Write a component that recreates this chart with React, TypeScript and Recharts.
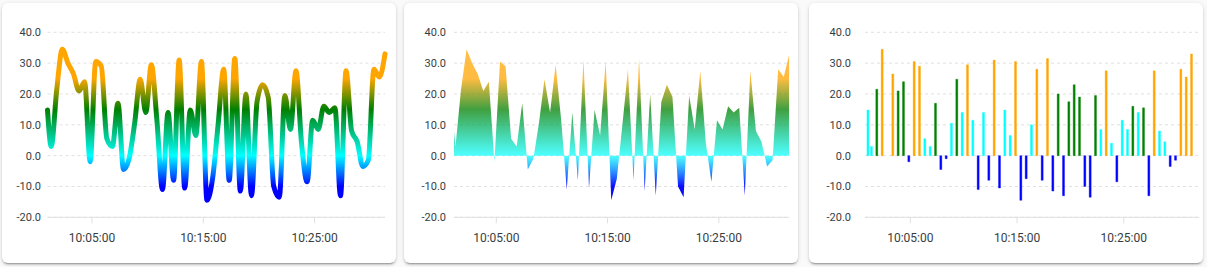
import {
  Area,
  AreaChart,
  Bar,
  BarChart,
  CartesianGrid,
  Cell,
  Line,
  LineChart,
  XAxis,
  YAxis,
} from "recharts";

const times = [
  "10:01:00", "10:01:20", "10:01:50", "10:02:20", "10:02:50", "10:03:20",
  "10:03:50", "10:04:20", "10:04:50", "10:05:20", "10:05:50", "10:06:20",
  "10:06:50", "10:07:20", "10:07:50", "10:08:20", "10:08:50", "10:09:20",
  "10:09:50", "10:10:20", "10:10:50", "10:11:20", "10:11:50", "10:12:20",
  "10:12:50", "10:13:20", "10:13:50", "10:14:20", "10:14:50", "10:15:20",
  "10:15:50", "10:16:20", "10:16:50", "10:17:20", "10:17:50", "10:18:20",
  "10:18:50", "10:19:20", "10:19:50", "10:20:20", "10:20:50", "10:21:20",
  "10:21:50", "10:22:20", "10:22:50", "10:23:20", "10:23:50", "10:24:20",
  "10:24:50", "10:25:20", "10:25:50", "10:26:20", "10:26:50", "10:27:20",
  "10:27:50", "10:28:20", "10:28:50", "10:29:20", "10:29:50", "10:30:20",
  "10:30:50", "10:31:20",
];

const readings = [
  14.8, 3, 21.5, 34.5, 30, 26.5,
  21, 24, -2, 30.5, 29, 5.5,
  3, 17, -4.5, -1, 10.5, 24.8,
  14, 29.5, 11.5, -11, 14, -8,
  31, -10.5, 14.8, 6.5, 30.5, -14.5,
  -7.5, 10, 28, -8, 31.5, -11.5,
  20, -13, 17.5, 23, 19, -10,
  -13.5, 19.5, 8.5, 27.5, 4, -8.5,
  11.5, 8.5, 16, 14, 15.5, -13,
  27.5, 8, 4.5, -3.5, -1.5, 28,
  25.5, 33,
];

// the bar card has no sample at this time
const barGapTimes = ["10:02:50"];

const timeTicks = ["10:05:00", "10:15:00", "10:25:00"];
const valueTicks = [-20, -10, 0, 10, 20, 30, 40];

const thresholdValues = [-10, 0, 15, 25];
const thresholdColors = ["#0000ff", "#00ffff", "#008000", "#ffa500"];

const toSec = (s: string) => {
  const [h, m, sec] = s.split(":").map(Number);
  return h * 3600 + m * 60 + sec;
};
const pad = (n: number) => String(n).padStart(2, "0");
const fmtTime = (v: number) =>
  `${pad(Math.floor(v / 3600))}:${pad(Math.floor((v % 3600) / 60))}:${pad(v % 60)}`;

const data = times.map((t, i) => ({ t: toSec(t), value: readings[i] }));
const barData = times
  .map((t, i) => ({ t: toSec(t), value: readings[i] }))
  .filter((_, i) => !barGapTimes.includes(times[i]));

const W = 394;
const H = 260;
const TOP = 29.3;
const AXIS_H = 45.7;
const PLOT_H = H - TOP - AXIS_H;
const Y_MIN = -20;
const Y_MAX = 40;
const yPx = (v: number) => TOP + ((Y_MAX - v) / (Y_MAX - Y_MIN)) * PLOT_H;

const colorFor = (v: number) => {
  let c = thresholdColors[0];
  thresholdValues.forEach((tv, i) => {
    if (v >= tv) c = thresholdColors[i];
  });
  return c;
};

const labelColor = "#373d3f";
const gridColor = "#e0e0e0";

const tStart = toSec(times[0]);
const tEnd = toSec(times[times.length - 1]);
const ticks = timeTicks.map(toSec);

function Card({ left, children }: { left: number; children: React.ReactNode }) {
  return (
    <div
      style={{
        position: "absolute",
        left,
        top: 3,
        width: W,
        height: H,
        background: "#ffffff",
        borderRadius: 6,
        boxShadow:
          "0 2px 2px 0 rgba(0,0,0,0.14), 0 1px 5px 0 rgba(0,0,0,0.12), 0 3px 1px -2px rgba(0,0,0,0.2)",
        overflow: "hidden",
      }}
    >
      {children}
    </div>
  );
}

function axes(yWidth: number, yGap: number, xPadding?: { left: number; right: number }, domainStart = tStart, clip = false) {
  return [
    <CartesianGrid key="g" stroke={gridColor} strokeDasharray="3 3" vertical={false} />,
    <XAxis
      key="x"
      dataKey="t"
      type="number"
      domain={[domainStart, tEnd]}
      allowDataOverflow={clip}
      ticks={ticks}
      tickFormatter={fmtTime}
      height={AXIS_H}
      padding={xPadding}
      stroke={gridColor}
      tickSize={6}
      tickMargin={10}
      tick={{ fill: labelColor, fontSize: 12 }}
    />,
    <YAxis
      key="y"
      type="number"
      domain={[Y_MIN, Y_MAX]}
      ticks={valueTicks}
      tickFormatter={(v: number) => v.toFixed(1)}
      width={yWidth}
      axisLine={false}
      tickLine={false}
      tickSize={0}
      tickMargin={yGap}
      tick={{ fill: labelColor, fontSize: 11 }}
    />,
  ];
}

function gradientStops(opacities: number[]) {
  return thresholdValues.map((v, i) => (
    <stop key={v} offset={0} stopColor={thresholdColors[i]} stopOpacity={opacities[i]} />
  ));
}

export default function App() {
  const lowY = yPx(thresholdValues[0]);
  const highY = yPx(thresholdValues[thresholdValues.length - 1]);
  const span = lowY - highY;
  const offsets = thresholdValues.map((v) => (lowY - yPx(v)) / span);

  return (
    <div
      style={{
        position: "absolute",
        left: 0,
        top: 0,
        width: 1207,
        height: 267,
        background: "#fafafa",
        fontFamily: "Roboto, sans-serif",
      }}
    >
      <Card left={2}>
        <LineChart width={W} height={H} data={data} margin={{ top: TOP, right: 11, left: 0, bottom: 0 }}>
          <defs>
            <linearGradient id="lineStroke" gradientUnits="userSpaceOnUse" x1="0" y1={lowY} x2="0" y2={highY}>
              {gradientStops([1, 1, 1, 1]).map((s, i) => (
                <stop key={i} offset={offsets[i]} stopColor={s.props.stopColor} stopOpacity={1} />
              ))}
            </linearGradient>
          </defs>
          {axes(45.5, 6.5)}
          <Line
            type="monotone"
            dataKey="value"
            stroke="url(#lineStroke)"
            strokeWidth={5}
            strokeLinecap="round"
            strokeLinejoin="round"
            dot={false}
            activeDot={false}
            isAnimationActive={false}
          />
        </LineChart>
      </Card>

      <Card left={404}>
        <AreaChart width={W} height={H} data={data} margin={{ top: TOP, right: 8.7, left: 0, bottom: 0 }}>
          <defs>
            <linearGradient id="areaFill" gradientUnits="userSpaceOnUse" x1="0" y1={yPx(Y_MIN)} x2="0" y2={yPx(Y_MAX)}>
              <stop offset={0} stopColor={thresholdColors[0]} stopOpacity={1} />
              {thresholdValues.map((v, i) => (
                <stop
                  key={v}
                  offset={(v - Y_MIN) / (Y_MAX - Y_MIN)}
                  stopColor={thresholdColors[i]}
                  stopOpacity={[0.95, 0.7, 0.75, 0.75][i]}
                />
              ))}
              <stop offset={1} stopColor={thresholdColors[3]} stopOpacity={0.7} />
            </linearGradient>
          </defs>
          {axes(50, 8, undefined, toSec("10:01:12"), true)}
          <Area
            type="linear"
            dataKey="value"
            stroke="none"
            fill="url(#areaFill)"
            fillOpacity={1}
            dot={false}
            activeDot={false}
            isAnimationActive={false}
          />
        </AreaChart>
      </Card>

      <Card left={809}>
        <BarChart width={W} height={H} data={barData} margin={{ top: TOP, right: 4, left: 0, bottom: 0 }}>
          {axes(56, 14, { left: 2.7, right: 7.7 })}
          <Bar dataKey="value" barSize={2} isAnimationActive={false}>
            {barData.map((d, i) => (
              <Cell
                key={i}
                fill={colorFor(d.value)}
                stroke={colorFor(d.value)}
                strokeOpacity={0.35}
                strokeWidth={1}
              />
            ))}
          </Bar>
        </BarChart>
      </Card>
    </div>
  );
}
